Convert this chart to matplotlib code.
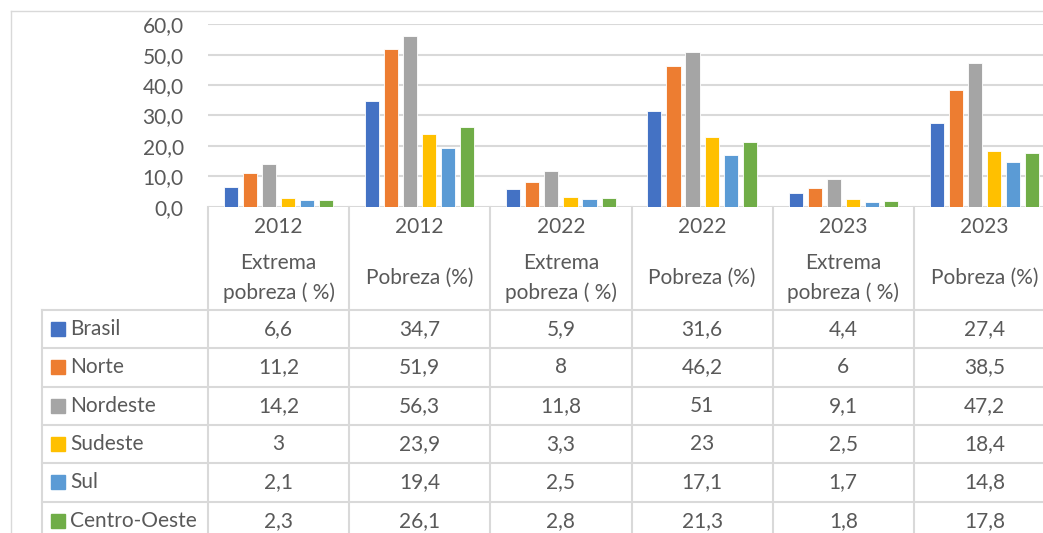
import matplotlib
matplotlib.use("Agg")
import matplotlib.pyplot as plt
from matplotlib.transforms import blended_transform_factory
from matplotlib.patches import Rectangle

plt.rcParams['font.family'] = ['Lato', 'DejaVu Sans']

# data
years = ['2012', '2012', '2022', '2022', '2023', '2023']
indicators = ['Extrema\npobreza ( %)', 'Pobreza (%)', 'Extrema\npobreza ( %)',
              'Pobreza (%)', 'Extrema\npobreza ( %)', 'Pobreza (%)']
regions = ['Brasil', 'Norte', 'Nordeste', 'Sudeste', 'Sul', 'Centro-Oeste']
brasil = [6.6, 34.7, 5.9, 31.6, 4.4, 27.4]
norte = [11.2, 51.9, 8, 46.2, 6, 38.5]
nordeste = [14.2, 56.3, 11.8, 51, 9.1, 47.2]
sudeste = [3, 23.9, 3.3, 23, 2.5, 18.4]
sul = [2.1, 19.4, 2.5, 17.1, 1.7, 14.8]
centro_oeste = [2.3, 26.1, 2.8, 21.3, 1.8, 17.8]
series = [brasil, norte, nordeste, sudeste, sul, centro_oeste]
colors = ['#4472C4', '#ED7D31', '#A5A5A5', '#FFC000', '#5B9BD5', '#70AD47']

W, H = 1043, 533
txt = '#595959'
line = '#d9d9d9'
fs = 15

fig = plt.figure(figsize=(W / 100, H / 100), dpi=100)

x0, x6 = 208, 1055
y0, y60 = 206.7, 24.3
ax = fig.add_axes([x0 / W, 1 - y0 / H, (x6 - x0) / W, (y0 - y60) / H])
ax.set_xlim(0, 6)
ax.set_ylim(0, 60)
ax.set_yticks(range(0, 61, 10))
ax.set_yticklabels(['%d,0' % v for v in range(0, 61, 10)], color=txt, fontsize=fs)
ax.tick_params(axis='y', length=0, pad=17.5)
ax.set_xticks([])
for s in ax.spines.values():
    s.set_visible(False)
ax.grid(axis='y', color=line, lw=1.5)
ax.set_axisbelow(True)

bw = 0.1
step = 0.135
for i, vals in enumerate(series):
    xs = [g + 0.5 + (i - 2.5) * step for g in range(len(vals))]
    ax.bar(xs, vals, width=bw, color=colors[i], edgecolor='white', lw=0.6, zorder=3)

# table below the bars: x in data units, y in figure pixels from top
tr = blended_transform_factory(ax.transData, fig.transFigure)
def fy(py):
    return 1 - py / H

def px2x(px):
    return (px - x0) / (x6 - x0) * 6

row_top = 310
row_h = 38.3
n = len(regions)
bottom = row_top + n * row_h

# header
for g in range(7):
    ax.plot([g, g], [fy(y0), fy(bottom)], transform=tr, color=line, lw=1.5, clip_on=False)
for g in range(6):
    ax.text(g + 0.5, fy(227), years[g], transform=tr, ha='center', va='center',
            color=txt, fontsize=fs)
    ax.text(g + 0.5, fy(278), indicators[g], transform=tr, ha='center', va='center',
            color=txt, fontsize=fs, linespacing=1.55)

# rows
xl = px2x(42)
ax.plot([xl, xl], [fy(row_top), fy(bottom)], transform=tr, color=line, lw=1.5, clip_on=False)
for r in range(n + 1):
    yy = fy(row_top + r * row_h)
    ax.plot([xl, 6], [yy, yy], transform=tr, color=line, lw=1.5, clip_on=False)

def fmt(v):
    if float(v).is_integer():
        return str(int(v))
    return ('%.1f' % v).replace('.', ',')

for r, name in enumerate(regions):
    yc = row_top + (r + 0.5) * row_h
    ax.add_patch(Rectangle((px2x(51), fy(yc + 7)), px2x(65) - px2x(51), 14 / H,
                           transform=tr, color=colors[r], clip_on=False))
    ax.text(px2x(70), fy(yc), name, transform=tr, ha='left', va='center',
            color=txt, fontsize=fs)
    for g in range(6):
        ax.text(g + 0.5, fy(yc), fmt(series[r][g]), transform=tr, ha='center',
                va='center', color=txt, fontsize=fs)

# outer chart frame
fig.add_artist(plt.Line2D([11 / W, 11 / W], [0, fy(10.5)], color=line, lw=1))
fig.add_artist(plt.Line2D([11 / W, 1], [fy(10.5), fy(10.5)], color=line, lw=1))

fig.savefig('out.png', dpi=100)
